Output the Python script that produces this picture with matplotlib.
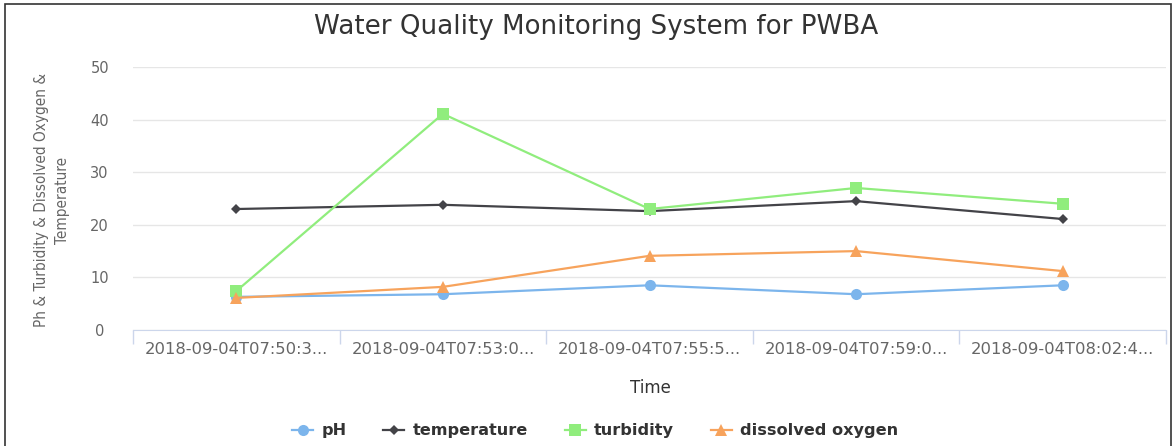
import matplotlib
matplotlib.use("Agg")
import matplotlib.pyplot as plt
from matplotlib.patches import Rectangle
import numpy as np

plt.rcParams['font.family'] = ['DejaVu Sans']

categories = ["2018-09-04T07:50:3...", "2018-09-04T07:53:0...", "2018-09-04T07:55:5...",
              "2018-09-04T07:59:0...", "2018-09-04T08:02:4..."]
ph = [6.3, 6.8, 8.5, 6.8, 8.5]
temperature = [23.0, 23.8, 22.6, 24.5, 21.1]
turbidity = [7.4, 41.1, 23.0, 27.0, 24.0]
dissolved_oxygen = [6.1, 8.2, 14.1, 15.0, 11.2]
y_ticks = [0, 10, 20, 30, 40, 50]

fig = plt.figure(figsize=(11.75, 4.46), dpi=100)
ax = fig.add_axes([133/1175, 1-330/446, (1166-133)/1175, (330-67)/446])

x = np.arange(len(categories))
series = [
    ("pH", ph, "#7cb5ec", "o", 8),
    ("temperature", temperature, "#434348", "D", 5.5),
    ("turbidity", turbidity, "#90ed7d", "s", 8),
    ("dissolved oxygen", dissolved_oxygen, "#f7a35c", "^", 8),
]
for name, vals, col, mk, ms in series:
    ax.plot(x, vals, color=col, marker=mk, markersize=ms, linewidth=1.6,
            label=name, zorder=3, markeredgewidth=0)

ax.set_xlim(-0.5, len(categories) - 0.5)
ax.set_ylim(0, 50)
ax.set_yticks(y_ticks)
ax.set_xticks(x)
ax.set_xticklabels(categories)
ax.set_xticks(np.arange(-0.5, len(categories), 1.0), minor=True)
ax.tick_params(axis="x", which="major", length=0, pad=9, labelsize=11.8, labelcolor="#666666")
ax.tick_params(axis="x", which="minor", length=10, color="#ccd6eb", width=1)
ax.tick_params(axis="y", length=0, pad=24, labelsize=10.5, labelcolor="#666666")
for lbl in ax.get_yticklabels():
    lbl.set_horizontalalignment("center")
ax.grid(axis="y", color="#e6e6e6", linewidth=1)
ax.set_axisbelow(True)
for s in ["top", "right", "left"]:
    ax.spines[s].set_visible(False)
ax.spines["bottom"].set_color("#ccd6eb")

fig.text(650/1175, 1-388/446, "Time", ha="center", va="center", fontsize=12, color="#333333")
fig.text(52/1175, 1-200/446, "Ph & Turbidity & Dissolved Oxygen &\nTemperature", rotation=90,
         ha="center", va="center", fontsize=11, color="#666666", fontstretch="condensed",
         linespacing=1.45)
fig.text(596/1175, 1-27/446, "Water Quality Monitoring System for PWBA", ha="center", va="center",
         fontsize=18.8, color="#333333")

leg = fig.legend(loc="center", bbox_to_anchor=(595/1175, 1-431/446), ncol=4, frameon=False,
                 handlelength=1.3, columnspacing=2.3, handletextpad=0.5,
                 prop={"weight": "bold", "size": 11.6})
for t in leg.get_texts():
    t.set_color("#333333")

fig.add_artist(Rectangle((5/1175, -0.01), (1171-5)/1175, 1 - 4/446 + 0.01, transform=fig.transFigure,
                         fill=False, edgecolor="#333333", linewidth=1.2))

fig.savefig("out.png", dpi=100, facecolor="white")
